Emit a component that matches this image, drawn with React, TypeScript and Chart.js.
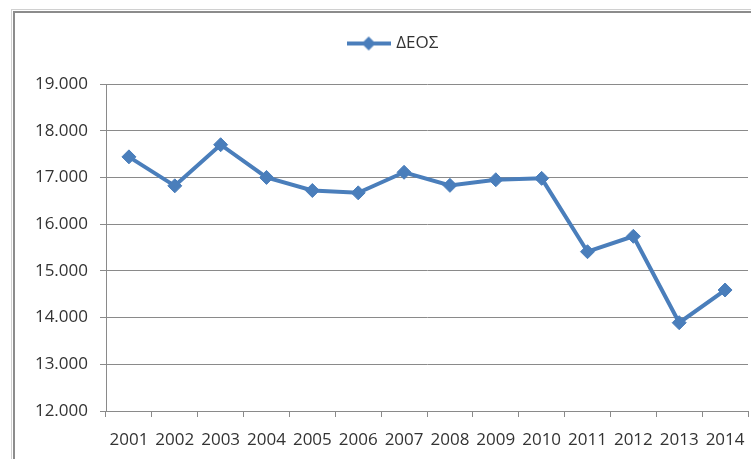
import React, { useEffect, useRef } from 'react';
import { Chart, registerables } from 'chart.js';

Chart.register(...registerables);

const years = ['2001', '2002', '2003', '2004', '2005', '2006', '2007', '2008', '2009', '2010', '2011', '2012', '2013', '2014'];
const deosValues = [17440, 16820, 17700, 17000, 16720, 16670, 17110, 16830, 16950, 16980, 15410, 15740, 13890, 14590];
const yMin = 12000;
const yMax = 19000;
const yStep = 1000;
const seriesLabel = 'ΔΕΟΣ';

const LINE_COLOR = '#4A7EBB';
const GRID_COLOR = '#8a8a8a';
const TEXT_COLOR = '#333333';
const FONT_FAMILY = '"Open Sans", "DejaVu Sans", sans-serif';

function formatThousands(v: number): string {
  const s = Math.round(v).toString();
  return s.replace(/\B(?=(\d{3})+(?!\d))/g, '.');
}

function makeLegendIcon(): HTMLCanvasElement {
  const c = document.createElement('canvas');
  c.width = 44;
  c.height = 16;
  const ctx = c.getContext('2d')!;
  ctx.strokeStyle = LINE_COLOR;
  ctx.lineWidth = 4;
  ctx.beginPath();
  ctx.moveTo(0, 8);
  ctx.lineTo(44, 8);
  ctx.stroke();
  ctx.fillStyle = LINE_COLOR;
  ctx.beginPath();
  ctx.moveTo(22 - 7, 8);
  ctx.lineTo(22, 1);
  ctx.lineTo(22 + 7, 8);
  ctx.lineTo(22, 15);
  ctx.closePath();
  ctx.fill();
  return c;
}

const frameBorder = {
  id: 'frameBorder',
  beforeLayout(chart: any) {
    const lg = chart.legend;
    if (lg && !lg._patchedFit) {
      const orig = lg.fit.bind(lg);
      lg.fit = function () {
        orig();
        this.height += 22;
      };
      lg._patchedFit = true;
    }
  },
  afterLayout(chart: any) {
    const lg = chart.legend;
    if (lg) {
      lg.left += 20;
      lg.right += 20;
    }
  },
  beforeDraw(chart: any) {
    const ctx = chart.ctx;
    ctx.save();
    ctx.strokeStyle = '#d0d0d0';
    ctx.lineWidth = 1;
    ctx.strokeRect(11.5, 9.5, chart.width + 20, chart.height + 20);
    ctx.strokeStyle = '#8c8c8c';
    ctx.lineWidth = 2;
    ctx.strokeRect(14, 12, chart.width + 20, chart.height + 20);
    ctx.restore();
  },
};

export default function App() {
  const canvasRef = useRef<HTMLCanvasElement | null>(null);

  useEffect(() => {
    if (!canvasRef.current) return;
    const icon = makeLegendIcon();
    const chart = new Chart(canvasRef.current, {
      type: 'line',
      data: {
        labels: years,
        datasets: [
          {
            label: seriesLabel,
            data: deosValues,
            borderColor: LINE_COLOR,
            backgroundColor: LINE_COLOR,
            borderWidth: 4,
            pointStyle: 'rectRot',
            pointRadius: 7,
            pointBorderWidth: 1,
            pointBackgroundColor: LINE_COLOR,
            pointBorderColor: LINE_COLOR,
            tension: 0,
          },
        ],
      },
      options: {
        responsive: false,
        animation: false,
        layout: { autoPadding: false, padding: { left: 0, top: 25, right: 3, bottom: 0 } },
        plugins: {
          legend: {
            display: true,
            position: 'top',
            labels: {
              usePointStyle: true,
              pointStyle: icon as any,
              pointStyleWidth: 38,
              color: TEXT_COLOR,
              font: { family: FONT_FAMILY, size: 17 },
              padding: 10,
            },
          },
          tooltip: { enabled: false },
        },
        scales: {
          x: {
            offset: true,
            grid: {
              display: true,
              offset: true,
              drawOnChartArea: false,
              drawTicks: true,
              tickLength: 6,
              color: GRID_COLOR,
            },
            border: { display: true, color: GRID_COLOR, width: 1 },
            ticks: {
              color: TEXT_COLOR,
              font: { family: FONT_FAMILY, size: 17 },
              padding: 13,
              maxRotation: 0,
              autoSkip: false,
            },
            afterFit(axis: any) {
              axis.height = 48;
              axis.paddingRight = 0;
              axis.paddingLeft = 0;
            },
          },
          y: {
            min: yMin,
            max: yMax,
            grid: {
              color: GRID_COLOR,
              tickLength: 6,
            },
            border: { display: true, color: GRID_COLOR, width: 1 },
            ticks: {
              stepSize: yStep,
              color: TEXT_COLOR,
              font: { family: FONT_FAMILY, size: 17 },
              padding: 12,
              callback: (v: any) => formatThousands(Number(v)),
            },
            afterFit(axis: any) {
              axis.width = 106;
            },
          },
        },
      },
      plugins: [frameBorder],
    });
    return () => chart.destroy();
  }, []);

  return (
    <div style={{ position: 'absolute', left: 0, top: 0, width: 751, height: 459, background: '#fff' }}>
      <canvas ref={canvasRef} width={751} height={459} />
    </div>
  );
}
